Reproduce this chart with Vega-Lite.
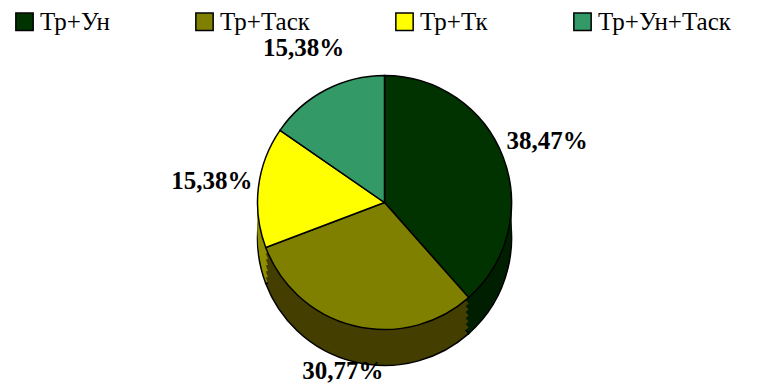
{
  "$schema": "https://vega.github.io/schema/vega-lite/v6.json",
  "width": 765,
  "height": 392,
  "autosize": {"type": "fit", "contains": "padding"},
  "padding": {"top": 9, "left": 12, "right": 8, "bottom": 28},
  "data": {
    "values": [
      {"category": "Тр+Ун", "share": 0.3847, "order": 1},
      {"category": "Тр+Таск", "share": 0.3077, "order": 2},
      {"category": "Тр+Тк", "share": 0.1538, "order": 3},
      {"category": "Тр+Ун+Таск", "share": 0.1538, "order": 4}
    ]
  },
  "encoding": {
    "theta": {"field": "share", "type": "quantitative", "stack": true},
    "order": {"field": "order", "type": "quantitative"}
  },
  "layer": [
    {
      "mark": {"type": "arc", "radius": 127, "yOffset": 36, "stroke": "black", "strokeWidth": 1.5},
      "encoding": {
        "color": {"field": "category", "type": "nominal", "legend": null,
          "scale": {"domain": ["Тр+Ун", "Тр+Таск", "Тр+Тк", "Тр+Ун+Таск"], "range": ["#001f00", "#443f00", "#8f8f00", "#1f4d33"]}}
      }
    },
    {
      "mark": {"type": "arc", "radius": 127, "yOffset": 30},
      "encoding": {
        "color": {"field": "category", "type": "nominal", "legend": null,
          "scale": {"domain": ["Тр+Ун", "Тр+Таск", "Тр+Тк", "Тр+Ун+Таск"], "range": ["#001f00", "#443f00", "#8f8f00", "#1f4d33"]}}
      }
    },
    {
      "mark": {"type": "arc", "radius": 127, "yOffset": 24},
      "encoding": {
        "color": {"field": "category", "type": "nominal", "legend": null,
          "scale": {"domain": ["Тр+Ун", "Тр+Таск", "Тр+Тк", "Тр+Ун+Таск"], "range": ["#001f00", "#443f00", "#8f8f00", "#1f4d33"]}}
      }
    },
    {
      "mark": {"type": "arc", "radius": 127, "yOffset": 18},
      "encoding": {
        "color": {"field": "category", "type": "nominal", "legend": null,
          "scale": {"domain": ["Тр+Ун", "Тр+Таск", "Тр+Тк", "Тр+Ун+Таск"], "range": ["#001f00", "#443f00", "#8f8f00", "#1f4d33"]}}
      }
    },
    {
      "mark": {"type": "arc", "radius": 127, "yOffset": 12},
      "encoding": {
        "color": {"field": "category", "type": "nominal", "legend": null,
          "scale": {"domain": ["Тр+Ун", "Тр+Таск", "Тр+Тк", "Тр+Ун+Таск"], "range": ["#001f00", "#443f00", "#8f8f00", "#1f4d33"]}}
      }
    },
    {
      "mark": {"type": "arc", "radius": 127, "yOffset": 6},
      "encoding": {
        "color": {"field": "category", "type": "nominal", "legend": null,
          "scale": {"domain": ["Тр+Ун", "Тр+Таск", "Тр+Тк", "Тр+Ун+Таск"], "range": ["#001f00", "#443f00", "#8f8f00", "#1f4d33"]}}
      }
    },
    {
      "mark": {"type": "arc", "radius": 127, "stroke": "black", "strokeWidth": 1.5},
      "encoding": {
        "color": {"field": "category", "type": "nominal",
          "scale": {"domain": ["Тр+Ун", "Тр+Таск", "Тр+Тк", "Тр+Ун+Таск"], "range": ["#003300", "#808000", "#ffff00", "#339966"]},
          "legend": {
            "orient": "top", "direction": "horizontal", "title": null,
            "labelFont": "Times New Roman", "labelFontSize": 25, "labelColor": "black",
            "symbolType": "square", "symbolSize": 300, "symbolStrokeColor": "black",
            "symbolStrokeWidth": 1.5, "symbolOpacity": 1, "columnPadding": 82,
            "offset": 6, "labelOffset": 3,
            "encode": {"labels": {"update": {"font": {"value": "Liberation Serif"}, "fontWeight": {"value": "normal"}}}}
          }
        }
      }
    },
    {
      "mark": {"type": "text", "radius": 174, "font": "Liberation Serif", "fontSize": 25, "fontWeight": "bold", "color": "black"},
      "encoding": {
        "text": {"field": "share", "type": "quantitative", "format": ".2%"}
      }
    }
  ],
  "resolve": {"scale": {"color": "independent"}},
  "config": {
    "view": {"stroke": null},
    "font": "Liberation Serif",
    "locale": {"number": {"decimal": ",", "thousands": " ", "grouping": [3], "currency": ["", ""]}}
  }
}
